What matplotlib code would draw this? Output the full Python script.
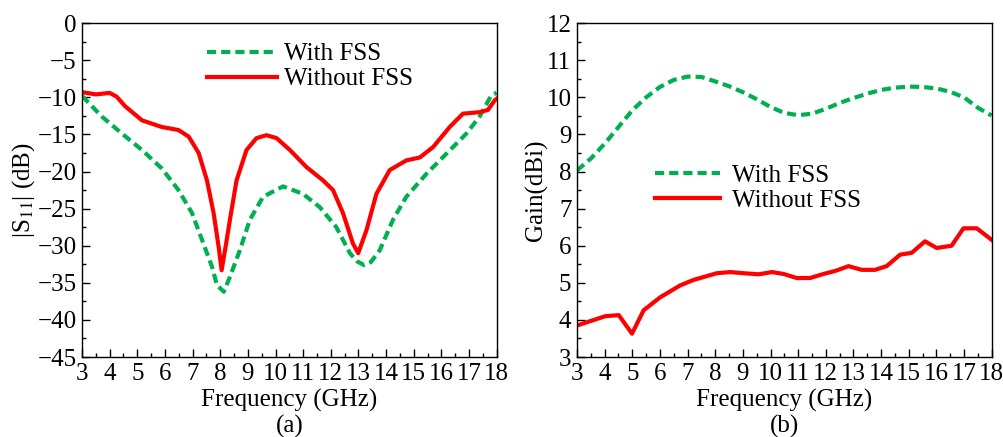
import numpy as np
import matplotlib.pyplot as plt
from matplotlib.ticker import MultipleLocator

plt.rcParams['font.family'] = ['Liberation Serif', 'DejaVu Serif']
plt.rcParams['mathtext.fontset'] = 'stix'

GREEN = '#00b050'
RED = '#ff0000'
FS = 18

# (a) reflection coefficient |S11| in dB
freq_s11_with = [3.00, 3.72, 4.45, 5.17, 5.89, 6.49, 6.98, 7.34, 7.70, 7.88, 8.13, 8.35,
                 8.71, 9.07, 9.55, 10.27, 10.99, 11.60, 12.20, 12.69, 12.95, 13.20, 13.45,
                 13.77, 14.25, 14.73, 15.46, 16.18, 16.90, 17.38, 17.81, 18.00]
s11_with = [-9.8, -12.6, -14.9, -17.1, -19.6, -22.5, -25.6, -29.2, -32.8, -35.3, -36.2, -34.2,
            -30.6, -26.5, -23.4, -22.0, -23.0, -24.8, -27.5, -31.0, -32.1, -32.6, -32.2,
            -30.6, -26.5, -23.4, -20.3, -17.6, -14.9, -12.6, -9.7, -9.4]

freq_s11_without = [3.00, 3.50, 4.00, 4.25, 4.56, 5.17, 5.89, 6.49, 6.86, 7.22, 7.52, 7.76,
                    7.94, 8.05, 8.20, 8.35, 8.59, 8.95, 9.31, 9.67, 10.04, 10.52, 11.12,
                    11.72, 12.08, 12.44, 12.80, 12.99, 13.29, 13.65, 14.13, 14.73, 15.22,
                    15.70, 16.30, 16.78, 17.38, 17.68, 17.93, 18.00]
s11_without = [-9.3, -9.6, -9.4, -9.9, -11.2, -13.1, -14.0, -14.4, -15.3, -17.5, -21.2, -25.6,
               -30.1, -33.3, -30.0, -26.5, -21.2, -17.1, -15.5, -15.1, -15.5, -17.1, -19.4,
               -21.2, -22.5, -25.6, -29.7, -31.0, -27.9, -23.0, -19.8, -18.5, -18.1,
               -16.7, -14.0, -12.2, -12.0, -11.7, -10.4, -10.2]

# (b) realized gain in dBi
freq_gain_with = [3.0, 3.5, 4.0, 4.5, 5.0, 5.5, 6.0, 6.5, 7.0, 7.5, 8.0, 8.5, 9.0, 9.5, 10.0,
                  10.5, 11.0, 11.5, 12.0, 12.5, 13.0, 13.5, 14.0, 14.5, 15.0, 15.5, 16.0,
                  16.5, 17.0, 17.5, 18.0]
gain_with = [8.03, 8.35, 8.75, 9.2, 9.65, 10.0, 10.28, 10.47, 10.56, 10.55, 10.43, 10.3, 10.14,
             9.95, 9.74, 9.58, 9.52, 9.56, 9.69, 9.85, 9.98, 10.1, 10.2, 10.26, 10.29, 10.28,
             10.24, 10.15, 10.0, 9.72, 9.51]

freq_gain_without = [3.00, 4.02, 4.51, 4.99, 5.41, 6.01, 6.73, 7.22, 8.06, 8.54, 9.02, 9.57,
                     10.05, 10.47, 10.95, 11.43, 11.92, 12.34, 12.82, 13.30, 13.78, 14.20,
                     14.69, 15.11, 15.59, 16.01, 16.55, 16.98, 17.46, 18.00]
gain_without = [3.85, 4.10, 4.13, 3.63, 4.26, 4.61, 4.93, 5.08, 5.26, 5.29, 5.26, 5.23,
                5.29, 5.24, 5.13, 5.13, 5.24, 5.32, 5.45, 5.35, 5.35, 5.45,
                5.76, 5.81, 6.12, 5.94, 6.00, 6.47, 6.47, 6.16]

freq_ticks = list(range(3, 19))

fig = plt.figure(figsize=(10.04, 4.37), dpi=100)
ax1 = fig.add_axes([0.0817, 0.183, 0.413, 0.764])
ax2 = fig.add_axes([0.5747, 0.183, 0.413, 0.764])

ax1.plot(freq_s11_with, s11_with, color=GREEN, lw=3, dashes=(2.2, 1.2), label='With FSS')
ax1.plot(freq_s11_without, s11_without, color=RED, lw=3, label='Without FSS')
ax1.set_ylim(-45, 0)
ax1.yaxis.set_major_locator(MultipleLocator(5))
ax1.yaxis.set_minor_locator(MultipleLocator(2.5))
ax1.set_ylabel(r'|S$_{11}$| (dB)', fontsize=FS, labelpad=0)
ax1.legend(loc='upper left', bbox_to_anchor=(0.277, 0.971), frameon=False, fontsize=FS,
           handlelength=2.8, handletextpad=0.28, labelspacing=0.1, borderaxespad=0)

ax2.plot(freq_gain_with, gain_with, color=GREEN, lw=3, dashes=(2.2, 1.2), label='With FSS')
ax2.plot(freq_gain_without, gain_without, color=RED, lw=3, label='Without FSS')
ax2.set_ylim(3, 12)
ax2.yaxis.set_major_locator(MultipleLocator(1))
ax2.yaxis.set_minor_locator(MultipleLocator(0.5))
ax2.set_ylabel('Gain(dBi)', fontsize=FS, labelpad=-1)
ax2.legend(loc='upper left', bbox_to_anchor=(0.164, 0.608), frameon=False, fontsize=FS,
           handlelength=2.6, handletextpad=0.48, labelspacing=0.1, borderaxespad=0)

for ax, tag in ((ax1, '(a)'), (ax2, '(b)')):
    ax.set_xlim(3, 18)
    ax.set_xticks(freq_ticks)
    ax.xaxis.set_minor_locator(MultipleLocator(0.5))
    ax.tick_params(which='both', direction='in', top=False, right=False, labelsize=FS, pad=4)
    ax.tick_params(which='major', length=6, width=1)
    ax.tick_params(which='minor', length=3, width=1)
    ax.set_xlabel('Frequency (GHz)', fontsize=FS, labelpad=3)
    pos = ax.get_position()
    fig.text(pos.x0 + pos.width / 2, 0.023, tag, fontsize=FS, ha='center', va='center')
    for s in ax.spines.values():
        s.set_linewidth(1)

fig.savefig('out.png', dpi=100)
